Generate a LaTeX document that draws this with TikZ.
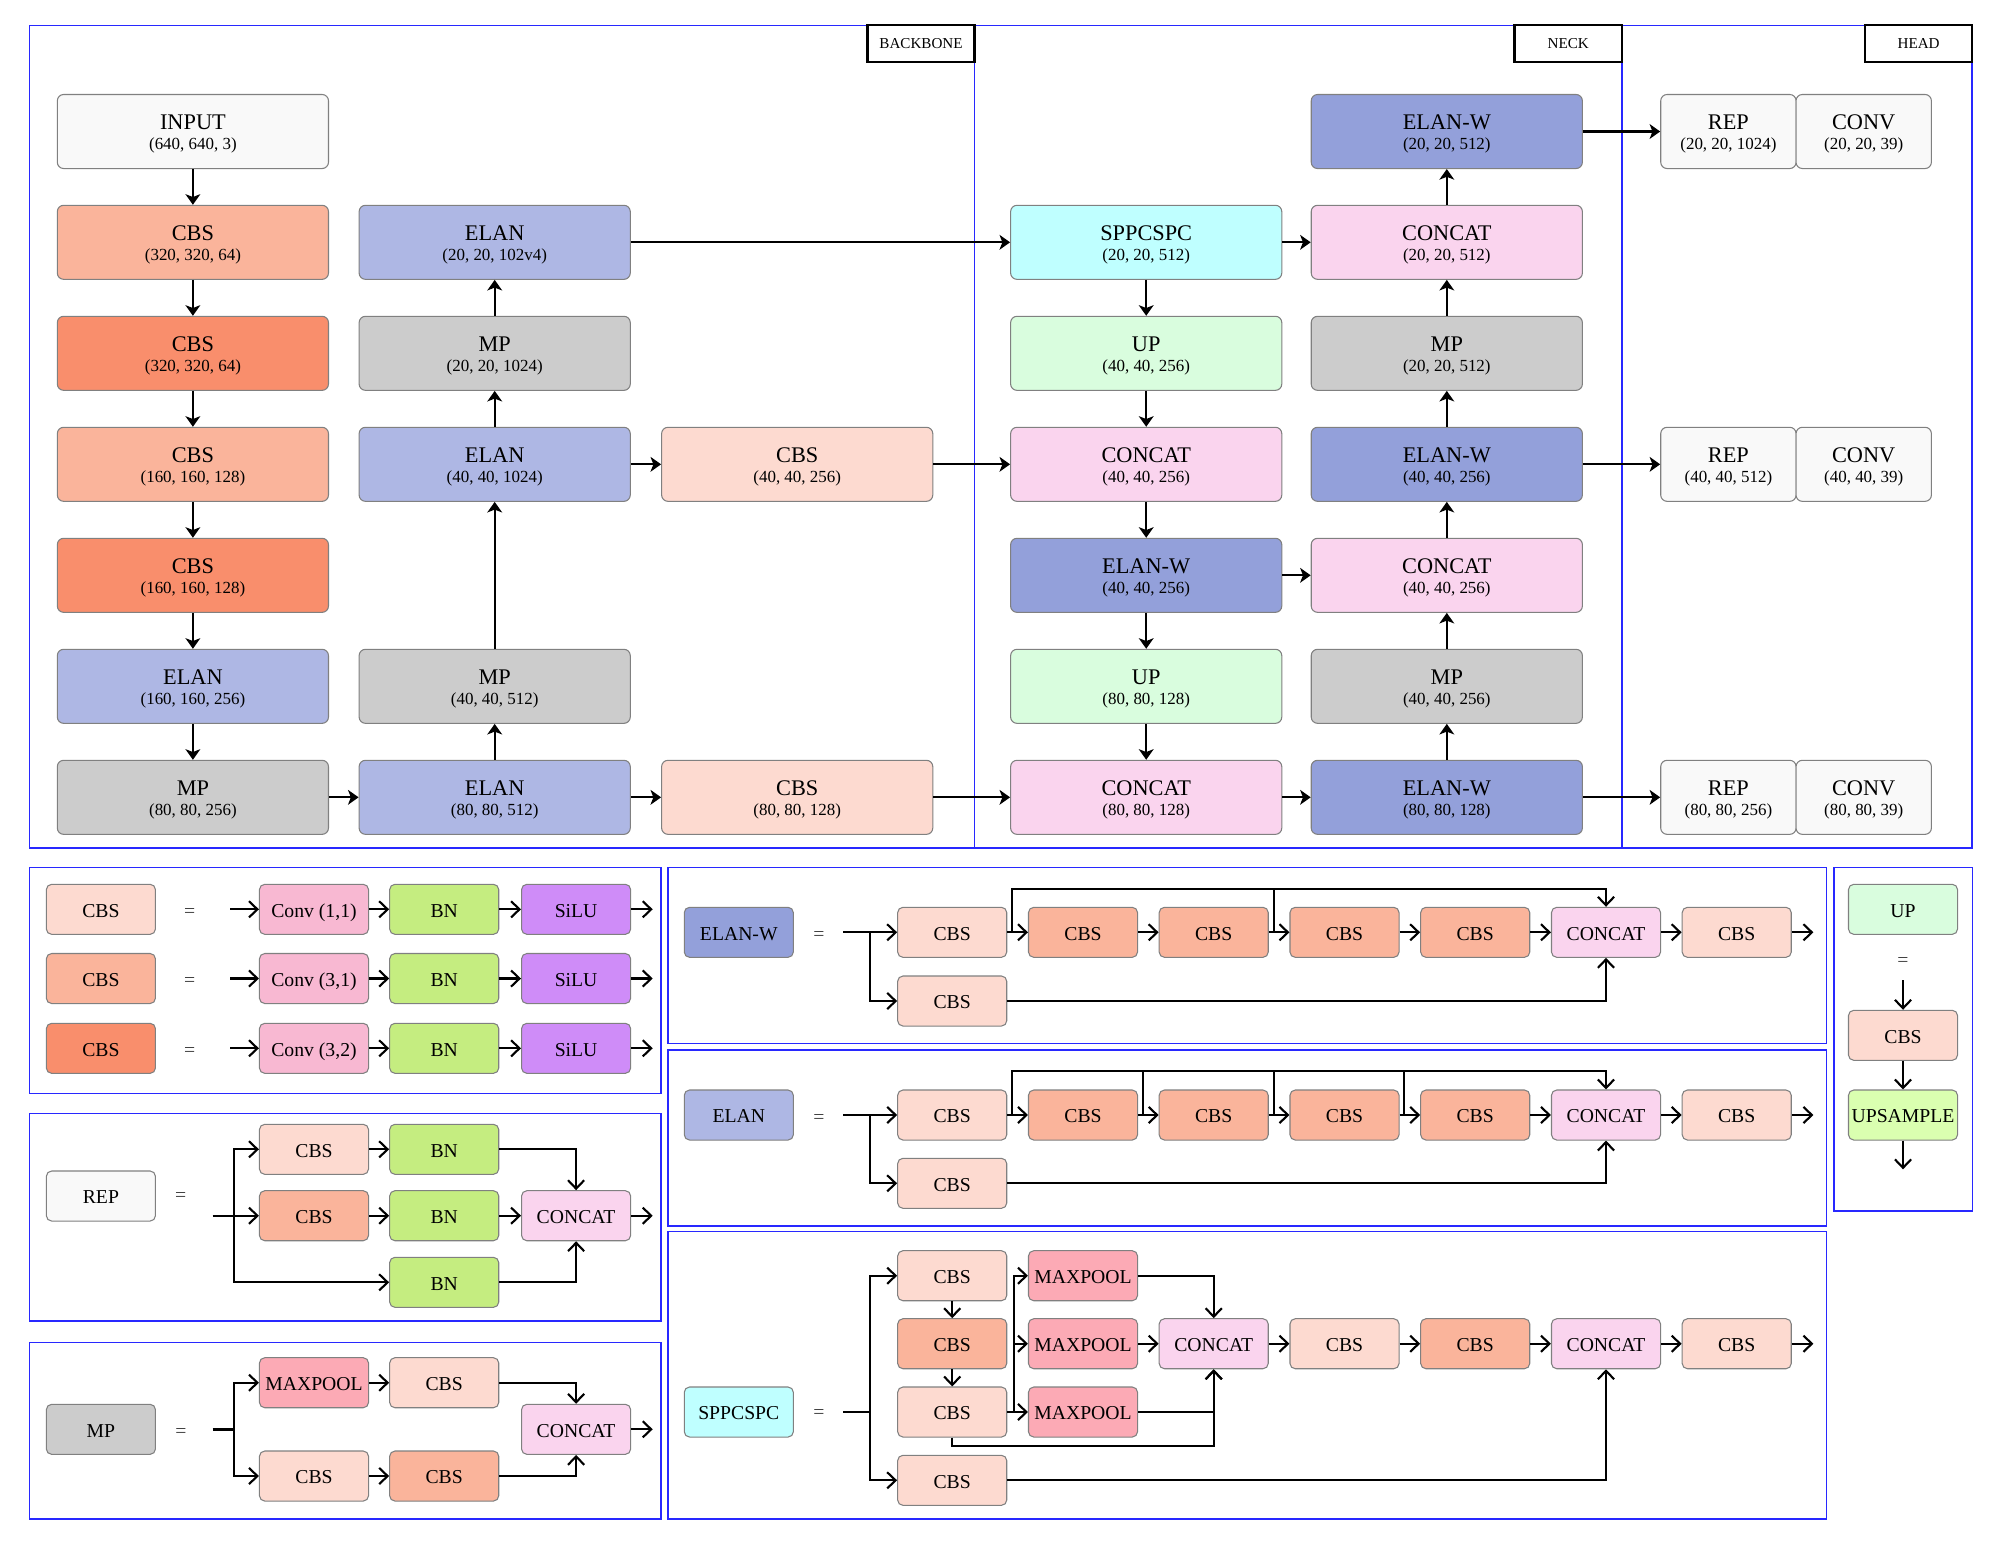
\documentclass[tikz,border=0pt]{standalone}
\usepackage{fontspec}
\setmainfont{Liberation Serif}
\usetikzlibrary{arrows.meta}
\definecolor{cInput}{HTML}{F9F9F9}
\definecolor{cCBSa}{HTML}{FDDAD0}
\definecolor{cCBSb}{HTML}{FAB49B}
\definecolor{cCBSc}{HTML}{F98E6C}
\definecolor{cELAN}{HTML}{AEB7E4}
\definecolor{cELANW}{HTML}{93A0DA}
\definecolor{cMP}{HTML}{CCCCCC}
\definecolor{cSPP}{HTML}{BFFFFF}
\definecolor{cUP}{HTML}{D9FDDE}
\definecolor{cCAT}{HTML}{FAD4EE}
\definecolor{cConv}{HTML}{F8B8D2}
\definecolor{cBN}{HTML}{C5ED80}
\definecolor{cSiLU}{HTML}{CF8CF8}
\definecolor{cMAX}{HTML}{FCAAB5}
\definecolor{cUPS}{HTML}{DAFFB0}
\definecolor{cFrame}{RGB}{40,40,255}
\newcommand{\nd}[2]{\rule{0pt}{5.6pt}#1\\{\fontsize{4.82}{5.7}\selectfont #2}}
\tikzset{
  blk/.style={draw=black!50, line width=0.3pt, rounded corners=1.8pt, minimum width=2.71cm, minimum height=0.74cm, inner sep=0pt, align=center, font=\fontsize{6.35}{5.7}\selectfont},
  hd/.style={blk, minimum width=1.353cm},
  sm/.style={draw=black!50, line width=0.3pt, rounded corners=1.5pt, minimum width=1.09cm, minimum height=0.5cm, inner sep=0pt, text height=5pt, text depth=0.6pt, font=\fontsize{5.6}{6}\selectfont},
  arr/.style={-{Stealth[length=3pt,width=4.2pt,inset=0.8pt]}, line width=0.6pt},
  barr/.style={-{Straight Barb[length=2.4pt,width=4.6pt]}, line width=0.6pt},
  ln/.style={line width=0.6pt},
  panelbox/.style={draw=cFrame, line width=0.38pt},
  sectag/.style={draw=black, line width=0.7pt, fill=white, minimum width=1.072cm, minimum height=0.367cm, inner sep=0pt, font=\fontsize{4.3}{5}\selectfont},
  eqs/.style={font=\fontsize{5.6}{6}\selectfont, text=black!75, inner sep=0pt, yshift=-1.1pt},
}
\begin{document}
\begin{tikzpicture}[x=0.01cm,y=-0.01cm]
\useasboundingbox[fill=white] (0,0) rectangle (2000,1547);
% ---------- top frame ----------
\draw[panelbox] (29.5,25.5) rectangle (1972,848);
\draw[panelbox] (974.6,25.5) -- (974.6,848);
\draw[panelbox] (1622,25.5) -- (1622,848);
\node[sectag] (tagb) at (921,43.4) {BACKBONE};
\node[sectag] (tagn) at (1568.3,43.4) {NECK};
\node[sectag] (tagh) at (1918.6,43.4) {HEAD};
% column 1
\node[blk,fill=cInput] (in) at (192.9,131.5) {\nd{INPUT}{(640, 640, 3)}};
\node[blk,fill=cCBSb] (b1) at (192.9,242.3) {\nd{CBS}{(320, 320, 64)}};
\node[blk,fill=cCBSc] (b2) at (192.9,353.3) {\nd{CBS}{(320, 320, 64)}};
\node[blk,fill=cCBSb] (b3) at (192.9,464.3) {\nd{CBS}{(160, 160, 128)}};
\node[blk,fill=cCBSc] (b4) at (192.9,575.3) {\nd{CBS}{(160, 160, 128)}};
\node[blk,fill=cELAN] (b5) at (192.9,686.3) {\nd{ELAN}{(160, 160, 256)}};
\node[blk,fill=cMP] (b6) at (192.9,797.3) {\nd{MP}{(80, 80, 256)}};
% column 2
\node[blk,fill=cELAN] (e1) at (494.7,242.3) {\nd{ELAN}{(20, 20, 102v4)}};
\node[blk,fill=cMP] (m2) at (494.7,353.3) {\nd{MP}{(20, 20, 1024)}};
\node[blk,fill=cELAN] (e3) at (494.7,464.3) {\nd{ELAN}{(40, 40, 1024)}};
\node[blk,fill=cMP] (m5) at (494.7,686.3) {\nd{MP}{(40, 40, 512)}};
\node[blk,fill=cELAN] (e6) at (494.7,797.3) {\nd{ELAN}{(80, 80, 512)}};
% column 3
\node[blk,fill=cCBSa] (k3) at (797.2,464.3) {\nd{CBS}{(40, 40, 256)}};
\node[blk,fill=cCBSa] (k6) at (797.2,797.3) {\nd{CBS}{(80, 80, 128)}};
% column 4
\node[blk,fill=cSPP] (sp) at (1146.2,242.3) {\nd{SPPCSPC}{(20, 20, 512)}};
\node[blk,fill=cUP] (u2) at (1146.2,353.3) {\nd{UP}{(40, 40, 256)}};
\node[blk,fill=cCAT] (n3) at (1146.2,464.3) {\nd{CONCAT}{(40, 40, 256)}};
\node[blk,fill=cELANW] (w4) at (1146.2,575.3) {\nd{ELAN-W}{(40, 40, 256)}};
\node[blk,fill=cUP] (u5) at (1146.2,686.3) {\nd{UP}{(80, 80, 128)}};
\node[blk,fill=cCAT] (n6) at (1146.2,797.3) {\nd{CONCAT}{(80, 80, 128)}};
% column 5
\node[blk,fill=cELANW] (x0) at (1446.8,131.5) {\nd{ELAN-W}{(20, 20, 512)}};
\node[blk,fill=cCAT] (x1) at (1446.8,242.3) {\nd{CONCAT}{(20, 20, 512)}};
\node[blk,fill=cMP] (x2) at (1446.8,353.3) {\nd{MP}{(20, 20, 512)}};
\node[blk,fill=cELANW] (x3) at (1446.8,464.3) {\nd{ELAN-W}{(40, 40, 256)}};
\node[blk,fill=cCAT] (x4) at (1446.8,575.3) {\nd{CONCAT}{(40, 40, 256)}};
\node[blk,fill=cMP] (x5) at (1446.8,686.3) {\nd{MP}{(40, 40, 256)}};
\node[blk,fill=cELANW] (x6) at (1446.8,797.3) {\nd{ELAN-W}{(80, 80, 128)}};
% head
\node[hd,fill=cInput] (r0) at (1728.4,131.5) {\nd{REP}{(20, 20, 1024)}};
\node[hd,fill=cInput] (v0) at (1863.7,131.5) {\nd{CONV}{(20, 20, 39)}};
\node[hd,fill=cInput] (r3) at (1728.4,464.3) {\nd{REP}{(40, 40, 512)}};
\node[hd,fill=cInput] (v3) at (1863.7,464.3) {\nd{CONV}{(40, 40, 39)}};
\node[hd,fill=cInput] (r6) at (1728.4,797.3) {\nd{REP}{(80, 80, 256)}};
\node[hd,fill=cInput] (v6) at (1863.7,797.3) {\nd{CONV}{(80, 80, 39)}};
% top connectors
\draw[arr] (in) -- (b1);
\draw[arr] (b1) -- (b2);
\draw[arr] (b2) -- (b3);
\draw[arr] (b3) -- (b4);
\draw[arr] (b4) -- (b5);
\draw[arr] (b5) -- (b6);
\draw[arr] (b6) -- (e6);
\draw[arr] (e6) -- (m5);
\draw[arr] (m5) -- (e3);
\draw[arr] (e3) -- (m2);
\draw[arr] (m2) -- (e1);
\draw[arr] (e1) -- (sp);
\draw[arr] (e3) -- (k3);
\draw[arr] (k3) -- (n3);
\draw[arr] (e6) -- (k6);
\draw[arr] (k6) -- (n6);
\draw[arr] (sp) -- (u2);
\draw[arr] (u2) -- (n3);
\draw[arr] (n3) -- (w4);
\draw[arr] (w4) -- (u5);
\draw[arr] (u5) -- (n6);
\draw[arr] (sp) -- (x1);
\draw[arr] (w4) -- (x4);
\draw[arr] (n6) -- (x6);
\draw[arr] (x6) -- (x5);
\draw[arr] (x5) -- (x4);
\draw[arr] (x4) -- (x3);
\draw[arr] (x3) -- (x2);
\draw[arr] (x2) -- (x1);
\draw[arr] (x1) -- (x0);
\draw[arr] (x0) -- (r0);
\draw[arr] (x3) -- (r3);
\draw[arr] (x6) -- (r6);
% ---------- bottom panels ----------
\draw[panelbox] (29.5,867.5) rectangle (661,1093.3);
\draw[panelbox] (29.5,1113.3) rectangle (661,1321);
\draw[panelbox] (29.5,1342.7) rectangle (661,1519);
\draw[panelbox] (668,867.5) rectangle (1826.3,1043.3);
\draw[panelbox] (668,1050) rectangle (1826.3,1226);
\draw[panelbox] (668,1231.7) rectangle (1826.3,1519);
\draw[panelbox] (1834,867.5) rectangle (1972.3,1211);
% CBS panel
\node[sm,fill=cCBSa] (lc1) at (100.9,909.3) {CBS};
\node[sm,fill=cCBSb] (lc2) at (100.9,978.5) {CBS};
\node[sm,fill=cCBSc] (lc3) at (100.9,1048.3) {CBS};
\node[eqs] (q1) at (189.7,909.3) {=};
\node[eqs] (q2) at (189.7,978.5) {=};
\node[eqs] (q3) at (189.7,1048.3) {=};
\coordinate (s1) at (230,909.3);
\coordinate (s2) at (230,978.5);
\coordinate (s3) at (230,1048.3);
\node[sm,fill=cConv] (cv1) at (314,909.3) {Conv (1,1)};
\node[sm,fill=cConv] (cv2) at (314,978.5) {Conv (3,1)};
\node[sm,fill=cConv] (cv3) at (314,1048.3) {Conv (3,2)};
\node[sm,fill=cBN] (bn1) at (444.2,909.3) {BN};
\node[sm,fill=cBN] (bn2) at (444.2,978.5) {BN};
\node[sm,fill=cBN] (bn3) at (444.2,1048.3) {BN};
\node[sm,fill=cSiLU] (sl1) at (576.1,909.3) {SiLU};
\node[sm,fill=cSiLU] (sl2) at (576.1,978.5) {SiLU};
\node[sm,fill=cSiLU] (sl3) at (576.1,1048.3) {SiLU};
\coordinate (t1) at (652.7,909.3);
\coordinate (t2) at (652.7,978.5);
\coordinate (t3) at (652.7,1048.3);
\foreach \i in {1,2,3}{
  \draw[barr] (s\i) -- (cv\i);
  \draw[barr] (cv\i) -- (bn\i);
  \draw[barr] (bn\i) -- (sl\i);
  \draw[barr] (sl\i) -- (t\i);
}
% REP panel
\node[sm,fill=cInput] (lrep) at (100.9,1196) {REP};
\node[eqs] (qr) at (180.8,1193) {=};
\coordinate (rs) at (212.5,1215.7);
\coordinate (rj) at (234.4,1215.7);
\node[sm,fill=cCBSa] (rc1) at (314,1149.3) {CBS};
\node[sm,fill=cBN] (rb1) at (444.2,1149.3) {BN};
\node[sm,fill=cCBSb] (rc2) at (314,1215.7) {CBS};
\node[sm,fill=cBN] (rb2) at (444.2,1215.7) {BN};
\node[sm,fill=cCAT] (rcat) at (576.1,1215.7) {CONCAT};
\node[sm,fill=cBN] (rb3) at (444.2,1282.3) {BN};
\coordinate (rout) at (652.7,1215.7);
\draw[ln] (rs) -- (rj);
\draw[barr] (rj) |- (rc1);
\draw[barr] (rj) -- (rc2);
\draw[barr] (rj) |- (rb3);
\draw[barr] (rc1) -- (rb1);
\draw[barr] (rc2) -- (rb2);
\draw[barr] (rb2) -- (rcat);
\draw[barr] (rb1) -| (rcat);
\draw[barr] (rb3) -| (rcat);
\draw[barr] (rcat) -- (rout);
% MP panel
\node[sm,fill=cMP] (lmp) at (100.9,1429.3) {MP};
\node[eqs] (qm) at (181,1429) {=};
\coordinate (ms) at (212.5,1429.5);
\coordinate (mj) at (234.4,1429.5);
\node[sm,fill=cMAX] (mp1) at (314,1382.7) {MAXPOOL};
\node[sm,fill=cCBSa] (mc2) at (444.2,1382.7) {CBS};
\node[sm,fill=cCBSa] (mc3) at (314,1476) {CBS};
\node[sm,fill=cCBSb] (mc4) at (444.2,1476) {CBS};
\node[sm,fill=cCAT] (mcat) at (576.1,1429.3) {CONCAT};
\coordinate (mout) at (652.7,1429.3);
\draw[ln] (ms) -- (mj);
\draw[barr] (mj) |- (mp1);
\draw[barr] (mj) |- (mc3);
\draw[barr] (mp1) -- (mc2);
\draw[barr] (mc3) -- (mc4);
\draw[barr] (mc2) -| (mcat);
\draw[barr] (mc4) -| (mcat);
\draw[barr] (mcat) -- (mout);
% ELAN-W panel
\node[sm,fill=cELANW] (lw) at (738.8,932.3) {ELAN-W};
\node[eqs] (qw) at (819,932.3) {=};
\coordinate (ws) at (843,932.3);
\coordinate (wj) at (869.8,932.3);
\node[sm,fill=cCBSa] (wa) at (952.2,932.3) {CBS};
\node[sm,fill=cCBSb] (wb) at (1083,932.3) {CBS};
\node[sm,fill=cCBSb] (wc) at (1213.7,932.3) {CBS};
\node[sm,fill=cCBSb] (wd) at (1344.5,932.3) {CBS};
\node[sm,fill=cCBSb] (we) at (1475.2,932.3) {CBS};
\node[sm,fill=cCAT] (wcat) at (1606,932.3) {CONCAT};
\node[sm,fill=cCBSa] (wf) at (1736.7,932.3) {CBS};
\node[sm,fill=cCBSa] (wg) at (952.2,1001) {CBS};
\coordinate (wout) at (1813.4,932.3);
\coordinate (wt1) at (1012.4,932.3);
\coordinate (wt2) at (1273.6,932.3);
\coordinate (wtr) at (1606,889);
\draw[ln] (ws) -- (wj);
\draw[barr] (wj) -- (wa);
\draw[barr] (wj) |- (wg);
\draw[barr] (wa) -- (wb);
\draw[barr] (wb) -- (wc);
\draw[barr] (wc) -- (wd);
\draw[barr] (wd) -- (we);
\draw[barr] (we) -- (wcat);
\draw[barr] (wcat) -- (wf);
\draw[barr] (wf) -- (wout);
\draw[barr] (wt1) |- (wtr) -- (wcat);
\draw[ln] (wt2) -- (wt2 |- wtr);
\draw[barr] (wg) -| (wcat);
% ELAN panel
\node[sm,fill=cELAN] (le) at (738.8,1115) {ELAN};
\node[eqs] (qe) at (819,1115) {=};
\coordinate (es) at (843,1115);
\coordinate (ej) at (869.8,1115);
\node[sm,fill=cCBSa] (ea) at (952.2,1115) {CBS};
\node[sm,fill=cCBSb] (eb) at (1083,1115) {CBS};
\node[sm,fill=cCBSb] (ec) at (1213.7,1115) {CBS};
\node[sm,fill=cCBSb] (ed) at (1344.5,1115) {CBS};
\node[sm,fill=cCBSb] (ee) at (1475.2,1115) {CBS};
\node[sm,fill=cCAT] (ecat) at (1606,1115) {CONCAT};
\node[sm,fill=cCBSa] (ef) at (1736.7,1115) {CBS};
\node[sm,fill=cCBSa] (eg) at (952.2,1183.3) {CBS};
\coordinate (eout) at (1813.4,1115);
\coordinate (et1) at (1012.4,1115);
\coordinate (et2) at (1143,1115);
\coordinate (et3) at (1273.6,1115);
\coordinate (et4) at (1404.4,1115);
\coordinate (etr) at (1606,1071.3);
\draw[ln] (es) -- (ej);
\draw[barr] (ej) -- (ea);
\draw[barr] (ej) |- (eg);
\draw[barr] (ea) -- (eb);
\draw[barr] (eb) -- (ec);
\draw[barr] (ec) -- (ed);
\draw[barr] (ed) -- (ee);
\draw[barr] (ee) -- (ecat);
\draw[barr] (ecat) -- (ef);
\draw[barr] (ef) -- (eout);
\draw[barr] (et1) |- (etr) -- (ecat);
\draw[ln] (et2) -- (et2 |- etr);
\draw[ln] (et3) -- (et3 |- etr);
\draw[ln] (et4) -- (et4 |- etr);
\draw[barr] (eg) -| (ecat);
% SPPCSPC panel
\node[sm,fill=cSPP] (lsp) at (738.8,1412) {SPPCSPC};
\node[eqs] (qs) at (819,1410) {=};
\coordinate (ss) at (843,1412);
\coordinate (sj) at (869.8,1412);
\node[sm,fill=cCBSa] (sa1) at (952.2,1275.7) {CBS};
\node[sm,fill=cCBSb] (sa2) at (952.2,1343.7) {CBS};
\node[sm,fill=cCBSa] (sa3) at (952.2,1412) {CBS};
\node[sm,fill=cCBSa] (sa4) at (952.2,1480.3) {CBS};
\node[sm,fill=cMAX] (mx1) at (1083,1275.7) {MAXPOOL};
\node[sm,fill=cMAX] (mx2) at (1083,1343.7) {MAXPOOL};
\node[sm,fill=cMAX] (mx3) at (1083,1412) {MAXPOOL};
\node[sm,fill=cCAT] (scat) at (1213.7,1343.7) {CONCAT};
\node[sm,fill=cCBSa] (sd) at (1344.5,1343.7) {CBS};
\node[sm,fill=cCBSb] (se) at (1475.2,1343.7) {CBS};
\node[sm,fill=cCAT] (scat2) at (1606,1343.7) {CONCAT};
\node[sm,fill=cCBSa] (sf) at (1736.7,1343.7) {CBS};
\coordinate (sout) at (1813.4,1343.7);
\coordinate (sv) at (1014,1412);
\coordinate (sb) at (952.2,1446);
\draw[ln] (ss) -- (sj);
\draw[barr] (sj) |- (sa1);
\draw[barr] (sj) |- (sa4);
\draw[barr] (sa1) -- (sa2);
\draw[barr] (sa2) -- (sa3);
\draw[barr] (sa3) -- (mx3);
\draw[barr] (sv) |- (mx1);
\draw[barr] (sv) |- (mx2);
\draw[barr] (mx1) -| (scat);
\draw[barr] (mx2) -- (scat);
\draw[barr] (mx3) -| (scat);
\draw[barr] (sa3) -- (sb) -| (scat);
\draw[barr] (scat) -- (sd);
\draw[barr] (sd) -- (se);
\draw[barr] (se) -- (scat2);
\draw[barr] (scat2) -- (sf);
\draw[barr] (sf) -- (sout);
\draw[barr] (sa4) -| (scat2);
% UP panel
\node[sm,fill=cUP] (lup) at (1903,909.3) {UP};
\node[eqs] (qu) at (1903,957.7) {=};
\coordinate (us) at (1903,980);
\node[sm,fill=cCBSa] (uc) at (1903,1035.3) {CBS};
\node[sm,fill=cUPS] (uu) at (1903,1115) {UPSAMPLE};
\coordinate (uo) at (1903,1169.3);
\draw[barr] (us) -- (uc);
\draw[barr] (uc) -- (uu);
\draw[barr] (uu) -- (uo);
\end{tikzpicture}
\end{document}
